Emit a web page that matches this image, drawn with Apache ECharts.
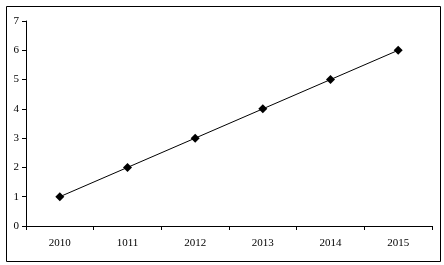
<!DOCTYPE html>
<html><head><meta charset="utf-8">
<script src="https://cdn.jsdelivr.net/npm/echarts@6/dist/echarts.min.js"></script>
<style>html,body{margin:0;padding:0;background:#fff}#c{width:444px;height:265px}</style>
</head><body><div id="c"></div>
<script>
var categories = ['2010', '1011', '2012', '2013', '2014', '2015'];
var values = [1, 2, 3, 4, 5, 6];
var yTicks = [0, 1, 2, 3, 4, 5, 6, 7];

var chart = echarts.init(document.getElementById('c'), null, {renderer: 'canvas'});
var font = 'Liberation Serif';
chart.setOption({
  animation: false,
  backgroundColor: '#fff',
  graphic: [{
    type: 'rect', left: 4, top: 4, shape: {width: 434, height: 255},
    style: {fill: 'none', stroke: '#000', lineWidth: 1}, z: 100, silent: true
  }],
  grid: {left: 26, top: 21, right: 12, bottom: 39, containLabel: false},
  xAxis: {
    type: 'category', data: categories, boundaryGap: true,
    axisLine: {lineStyle: {color: '#000', width: 1}},
    axisTick: {show: true, inside: false, length: 4, lineStyle: {color: '#000'}},
    axisLabel: {color: '#000', fontFamily: font, fontSize: 11, margin: 12},
    splitLine: {show: false}
  },
  yAxis: {
    type: 'value', min: yTicks[0], max: yTicks[yTicks.length - 1], interval: 1,
    axisLine: {show: true, lineStyle: {color: '#000', width: 1}},
    axisTick: {show: true, length: 4, lineStyle: {color: '#000'}},
    axisLabel: {color: '#000', fontFamily: font, fontSize: 11, margin: 7},
    splitLine: {show: false}
  },
  series: [{
    type: 'line', data: values,
    symbol: 'diamond', symbolSize: 9,
    itemStyle: {color: '#000'},
    lineStyle: {color: '#000', width: 1}
  }]
});
</script></body></html>
